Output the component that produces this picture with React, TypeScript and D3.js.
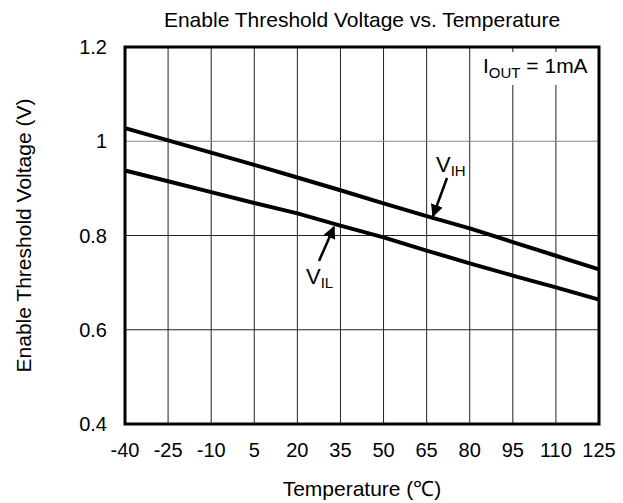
import { useEffect, useRef } from 'react'
import * as d3 from 'd3'

const temperatures = [-40, -25, -10, 5, 20, 35, 50, 65, 80, 95, 110, 125]
const vihValues = [1.028, 1.002, 0.976, 0.95, 0.923, 0.896, 0.868, 0.841, 0.815, 0.786, 0.757, 0.728]
const vilValues = [0.938, 0.915, 0.892, 0.869, 0.847, 0.821, 0.796, 0.768, 0.741, 0.715, 0.69, 0.664]
const yTicks = [0.4, 0.6, 0.8, 1.0, 1.2]

const WIDTH = 623
const HEIGHT = 503
const FONT = 'Liberation Sans, Arial, sans-serif'

export default function App() {
  const svgRef = useRef<SVGSVGElement | null>(null)

  useEffect(() => {
    document.body.style.margin = '0'
    const svgElement = svgRef.current
    if (!svgElement) return

    const svg = d3.select(svgElement)
    svg.selectAll('*').remove()

    const margin = { top: 47, right: 24, bottom: 79, left: 125 }
    const innerWidth = WIDTH - margin.left - margin.right
    const innerHeight = HEIGHT - margin.top - margin.bottom

    const x = d3.scaleLinear().domain([-40, 125]).range([0, innerWidth])
    const y = d3.scaleLinear().domain([0.4, 1.2]).range([innerHeight, 0])

    svg
      .append('rect')
      .attr('width', WIDTH)
      .attr('height', HEIGHT)
      .attr('fill', '#fff')

    const defs = svg.append('defs')
    defs
      .append('marker')
      .attr('id', 'arrow')
      .attr('viewBox', '0 0 10 10')
      .attr('refX', 9)
      .attr('refY', 5)
      .attr('markerWidth', 5)
      .attr('markerHeight', 5)
      .attr('markerUnits', 'strokeWidth')
      .attr('orient', 'auto')
      .append('path')
      .attr('d', 'M0,0 L10,5 L0,10 z')
      .attr('fill', '#000')

    const g = svg.append('g').attr('transform', `translate(${margin.left},${margin.top})`)

    // grid
    g.append('g')
      .selectAll('line')
      .data(temperatures.slice(1, -1))
      .join('line')
      .attr('x1', (d) => x(d))
      .attr('x2', (d) => x(d))
      .attr('y1', 0)
      .attr('y2', innerHeight)
      .attr('stroke', '#222')
      .attr('stroke-width', 1)

    g.append('g')
      .selectAll('line')
      .data(yTicks.slice(1, -1))
      .join('line')
      .attr('x1', 0)
      .attr('x2', innerWidth)
      .attr('y1', (d) => y(d))
      .attr('y2', (d) => y(d))
      .attr('stroke', (d) => (d === 1.0 ? '#888' : '#222'))
      .attr('stroke-width', 1)

    // condition label with white box
    g.append('rect')
      .attr('x', 478 - margin.left)
      .attr('y', 52 - margin.top)
      .attr('width', 114)
      .attr('height', 33)
      .attr('fill', '#fff')

    const iout = g
      .append('text')
      .attr('x', 483 - margin.left)
      .attr('y', 73 - margin.top)
      .attr('font-family', FONT)
      .attr('font-size', 21)
      .attr('fill', '#000')
    iout.append('tspan').text('I')
    iout.append('tspan').attr('font-size', 15).attr('dy', 5).text('OUT')
    iout.append('tspan').attr('dy', -5).text(' = 1mA')

    // curves
    const line = d3
      .line<number>()
      .x((_, i) => x(temperatures[i]))
      .y((d) => y(d))

    for (const values of [vihValues, vilValues]) {
      g.append('path')
        .datum(values)
        .attr('fill', 'none')
        .attr('stroke', '#000')
        .attr('stroke-width', 4)
        .attr('stroke-linejoin', 'round')
        .attr('d', line)
    }

    // border
    g.append('rect')
      .attr('width', innerWidth)
      .attr('height', innerHeight)
      .attr('fill', 'none')
      .attr('stroke', '#000')
      .attr('stroke-width', 3)

    // annotations
    const annotations = [
      { label: 'V', sub: 'IH', tx: 436, ty: 172, x1: 447, y1: 178, x2: 433, y2: 216 },
      { label: 'V', sub: 'IL', tx: 306, ty: 284, x1: 319, y1: 261, x2: 334, y2: 227 },
    ]
    for (const a of annotations) {
      svg
        .append('line')
        .attr('x1', a.x1)
        .attr('y1', a.y1)
        .attr('x2', a.x2)
        .attr('y2', a.y2)
        .attr('stroke', '#000')
        .attr('stroke-width', 2.5)
        .attr('marker-end', 'url(#arrow)')
      const t = svg
        .append('text')
        .attr('x', a.tx)
        .attr('y', a.ty)
        .attr('font-family', FONT)
        .attr('font-size', 22)
        .attr('fill', '#000')
      t.append('tspan').text(a.label)
      t.append('tspan').attr('font-size', 15).attr('dy', 4).text(a.sub)
    }

    // tick labels
    svg
      .append('g')
      .selectAll('text')
      .data(temperatures)
      .join('text')
      .attr('x', (d) => margin.left + x(d))
      .attr('y', 457)
      .attr('text-anchor', 'middle')
      .attr('font-family', FONT)
      .attr('font-size', 20)
      .text((d) => String(d))

    svg
      .append('g')
      .selectAll('text')
      .data(yTicks)
      .join('text')
      .attr('x', 107)
      .attr('y', (d) => margin.top + y(d))
      .attr('dy', '0.36em')
      .attr('text-anchor', 'end')
      .attr('font-family', FONT)
      .attr('font-size', 20)
      .text((d) => (d === 1 ? '1' : d.toFixed(1)))

    // titles
    svg
      .append('text')
      .attr('x', margin.left + innerWidth / 2)
      .attr('y', 27)
      .attr('text-anchor', 'middle')
      .attr('font-family', FONT)
      .attr('font-size', 21)
      .text('Enable Threshold Voltage vs. Temperature')

    svg
      .append('text')
      .attr('x', margin.left + innerWidth / 2)
      .attr('y', 496)
      .attr('text-anchor', 'middle')
      .attr('font-family', FONT)
      .attr('font-size', 21)
      .text('Temperature (℃)')

    svg
      .append('text')
      .attr('transform', `translate(31,${margin.top + innerHeight / 2}) rotate(-90)`)
      .attr('text-anchor', 'middle')
      .attr('font-family', FONT)
      .attr('font-size', 21)
      .text('Enable Threshold Voltage (V)')
  }, [])

  return <svg ref={svgRef} width={WIDTH} height={HEIGHT} style={{ display: 'block' }} />
}
